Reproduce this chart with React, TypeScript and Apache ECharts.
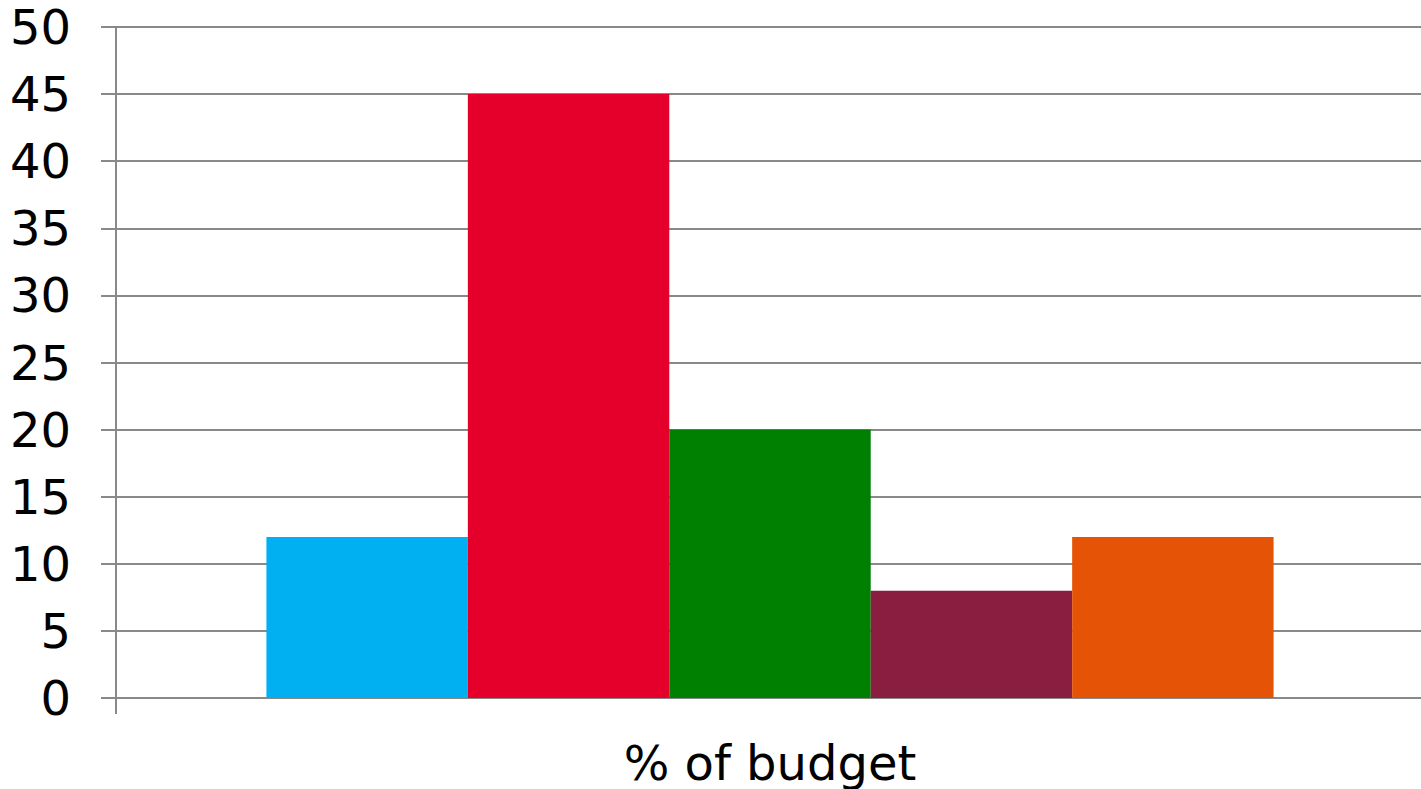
import React, { useEffect, useRef } from "react";
import * as echarts from "echarts";

const categories = ["% of budget"];
const seriesNames = ["Series A", "Series B", "Series C", "Series D", "Series E"];
const seriesValues = [12, 45, 20, 8, 12];
const seriesColors = ["#00B0F0", "#E4002B", "#008000", "#8A1E41", "#E55306"];
const yTicks = { min: 0, max: 50, interval: 5 };

export default function App() {
  const ref = useRef<HTMLDivElement>(null);
  useEffect(() => {
    document.body.style.margin = "0";
    const chart = echarts.init(ref.current!, null, { renderer: "svg" });
    const axisColor = "#898989";
    chart.setOption({
      animation: false,
      backgroundColor: "#ffffff",
      grid: {
        left: 116,
        width: 1308,
        top: 27,
        bottom: 91,
        containLabel: false,
        outerBoundsMode: "none",
      },
      xAxis: {
        type: "category",
        data: categories,
        axisLine: { show: true, lineStyle: { color: axisColor, width: 2 } },
        axisTick: { show: true, length: 16, lineStyle: { color: axisColor, width: 2 } },
        axisLabel: {
          color: "#000",
          fontSize: 48,
          lineHeight: 40,
          fontFamily: "DejaVu Sans",
          margin: 45,
        },
      },
      yAxis: {
        type: "value",
        min: yTicks.min,
        max: yTicks.max,
        interval: yTicks.interval,
        axisLine: { show: true, lineStyle: { color: axisColor, width: 2 } },
        axisTick: { show: true, length: 15, lineStyle: { color: axisColor, width: 2 } },
        splitLine: { show: true, lineStyle: { color: axisColor, width: 2 } },
        axisLabel: {
          color: "#000",
          fontSize: 48,
          fontFamily: "DejaVu Sans",
          margin: 45,
        },
      },
      series: seriesNames.map((name, i) => ({
        name,
        type: "bar",
        data: [seriesValues[i]],
        barGap: "0%",
        barCategoryGap: "23%",
        itemStyle: { color: seriesColors[i] },
      })),
    });
    return () => chart.dispose();
  }, []);
  return <div ref={ref} style={{ width: 1421, height: 789 }} />;
}
